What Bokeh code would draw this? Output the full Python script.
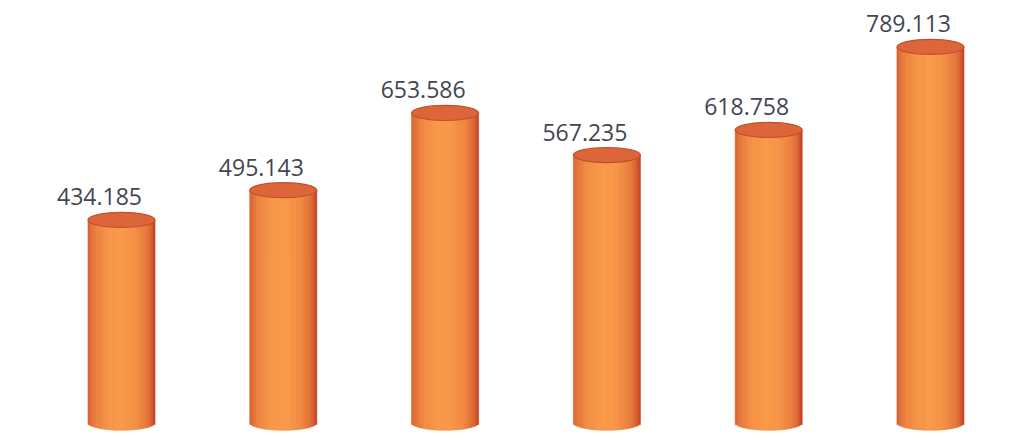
import numpy as np
from bokeh.plotting import figure
from bokeh.models import ColumnDataSource, Range1d
from bokeh.core.properties import value
from bokeh.embed import file_html
from bokeh.resources import INLINE

# ---- data ----
categories = ["1", "2", "3", "4", "5", "6"]
values = [434.185, 495.143, 653.586, 567.235, 618.758, 789.113]
labels = ["434.185", "495.143", "653.586", "567.235", "618.758", "789.113"]

# ---- style ----
BAR_W = 0.414        # bar width in category units
ELL_H = 31.0         # ellipse height in value units (perspective of cylinder)
FLOOR = 18.0         # value level of the cylinder's bottom ellipse centre
N_STRIPS = 31
DARK = np.array([200, 72, 38])
LIGHT = np.array([249, 152, 72])

p = figure(width=1018, height=432, output_backend="svg", toolbar_location=None,
           x_range=Range1d(-0.748, 5.544), y_range=Range1d(-2.05, 884.3),
           min_border=0, min_border_left=0, min_border_right=0,
           min_border_top=0, min_border_bottom=0)
p.axis.visible = False
p.grid.visible = False
p.outline_line_color = None
p.background_fill_color = "white"
p.border_fill_color = "white"

xs = np.arange(len(values))
vals = np.array(values)

# cylinder body as shaded vertical strips
sx, stop, sbot, scol = [], [], [], []
sw = BAR_W / N_STRIPS
for k in range(N_STRIPS):
    t = -1 + (2 * k + 1) / N_STRIPS          # -1..1 across the bar
    shade = np.sqrt(max(0.0, 1 - (t + 0.05) ** 2)) ** 1.1
    c = DARK + (LIGHT - DARK) * shade
    col = "#%02x%02x%02x" % tuple(int(round(v)) for v in c)
    bot_off = (ELL_H / 2) * np.sqrt(max(0.0, 1 - t * t))
    for i, v in zip(xs, vals):
        sx.append(i + t * BAR_W / 2)
        stop.append(v)
        sbot.append(FLOOR - bot_off)
        scol.append(col)
strips = ColumnDataSource(dict(x=sx, top=stop, bottom=sbot, color=scol))
p.vbar(x="x", top="top", bottom="bottom", width=sw * 1.05, source=strips,
       fill_color="color", line_color="color", line_width=0.6)

# top ellipse of each cylinder
src = ColumnDataSource(dict(x=xs, v=vals, lab=labels))
p.ellipse(x="x", y="v", width=BAR_W, height=ELL_H, source=src,
          fill_color="#dc653a", line_color="#c0502c", line_width=1.2)

# value labels
p.text(x="x", y="v", text="lab", source=src, x_offset=-22, y_offset=-23,
       text_align="center", text_baseline="alphabetic",
       text_font=value("Open Sans"), text_font_size="23px",
       text_color="#3f4751")

open("out.html", "w").write(file_html(p, INLINE))
